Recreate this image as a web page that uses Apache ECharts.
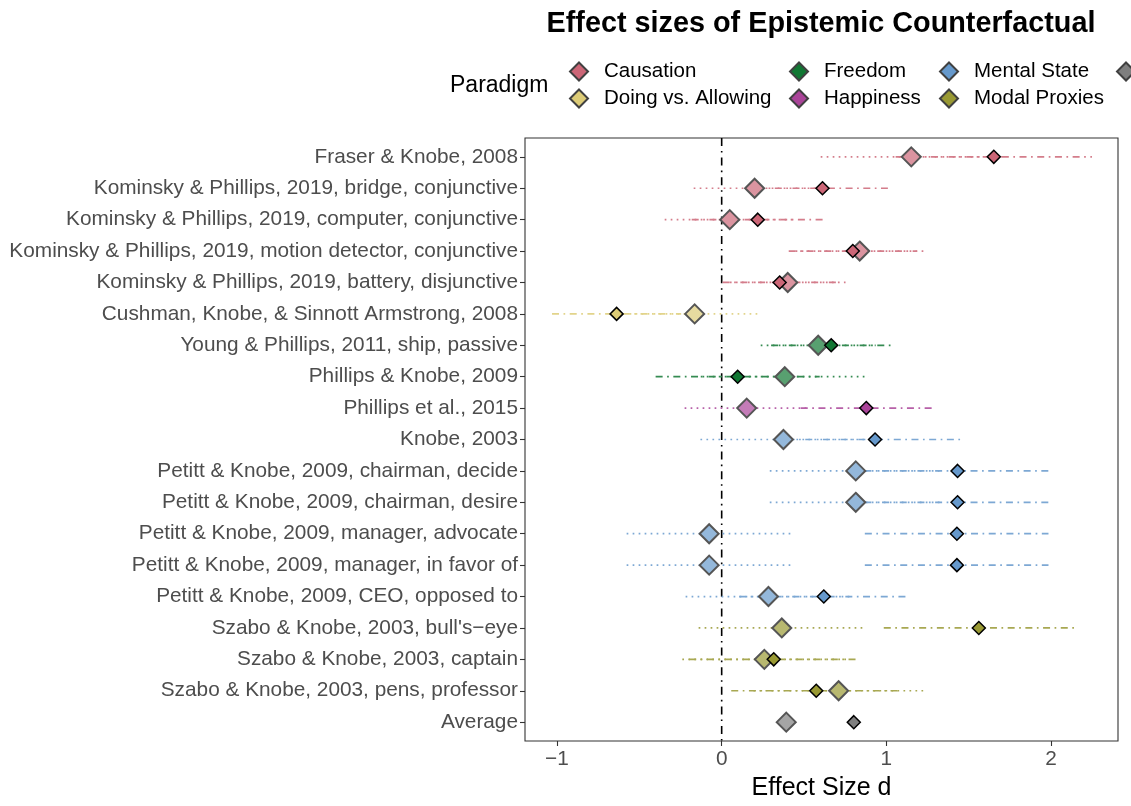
<!DOCTYPE html>
<html>
<head>
<meta charset="utf-8">
<script src="https://cdn.jsdelivr.net/npm/echarts@6/dist/echarts.min.js"></script>
<style>html,body{margin:0;padding:0;background:#fff}#c{width:1131px;height:806px}</style>
</head>
<body>
<div id="c"></div>
<script>
const categories = [
  'Fraser & Knobe, 2008',
  'Kominsky & Phillips, 2019, bridge, conjunctive',
  'Kominsky & Phillips, 2019, computer, conjunctive',
  'Kominsky & Phillips, 2019, motion detector, conjunctive',
  'Kominsky & Phillips, 2019, battery, disjunctive',
  'Cushman, Knobe, & Sinnott Armstrong, 2008',
  'Young & Phillips, 2011, ship, passive',
  'Phillips & Knobe, 2009',
  'Phillips et al., 2015',
  'Knobe, 2003',
  'Petitt & Knobe, 2009, chairman, decide',
  'Petitt & Knobe, 2009, chairman, desire',
  'Petitt & Knobe, 2009, manager, advocate',
  'Petitt & Knobe, 2009, manager, in favor of',
  'Petitt & Knobe, 2009, CEO, opposed to',
  "Szabo & Knobe, 2003, bull's\u2212eye",
  'Szabo & Knobe, 2003, captain',
  'Szabo & Knobe, 2003, pens, professor',
  'Average'
];
const rowParadigm = [
  'Causation','Causation','Causation','Causation','Causation',
  'Doing vs. Allowing','Freedom','Freedom','Happiness',
  'Mental State','Mental State','Mental State','Mental State','Mental State','Mental State',
  'Modal Proxies','Modal Proxies','Modal Proxies','NA'
];
// original studies (small diamonds, dot-dash CI)
const origD  = [1.652, 0.612, 0.219, 0.796, 0.352, -0.638, 0.665, 0.097, 0.878, 0.931, 1.432, 1.432, 1.428, 1.428, 0.620, 1.561, 0.316, 0.574, 0.802];
const origLo = [1.056, 0.215, -0.182, 0.407, 0.006, -1.030, 0.300, -0.401, 0.480, 0.400, 0.866, 0.866, 0.869, 0.869, 0.106, 0.984, -0.197, 0.058, null];
const origHi = [2.248, 1.009, 0.620, 1.185, 0.698, -0.246, 1.030, 0.595, 1.276, 1.462, 1.998, 1.998, 1.984, 1.984, 1.134, 2.139, 0.829, 1.090, null];
// replications (large diamonds, dotted CI)
const repD  = [1.151, 0.200, 0.049, 0.838, 0.401, -0.164, 0.586, 0.383, 0.152, 0.375, 0.814, 0.814, -0.076, -0.076, 0.284, 0.365, 0.259, 0.710, 0.392];
const repLo = [0.601, -0.170, -0.346, 0.449, 0.050, -0.559, 0.237, -0.127, -0.225, -0.129, 0.292, 0.292, -0.577, -0.577, -0.219, -0.140, -0.239, 0.193, null];
const repHi = [1.700, 0.570, 0.444, 1.227, 0.752, 0.231, 0.935, 0.893, 0.529, 0.879, 1.336, 1.336, 0.425, 0.425, 0.787, 0.875, 0.757, 1.227, null];

const paradigms = ['Causation','Doing vs. Allowing','Freedom','Happiness','Mental State','Modal Proxies','NA'];
const paradigmColors = ['#CC6677','#DDCC77','#117733','#AA4499','#6699CC','#999933','#7F7F7F'];
const xTicks = [-1, 0, 1, 2];
const rowIdx = categories.map((_, i) => i);

const FONT = '"Liberation Sans", Arial, Helvetica, sans-serif';

function mix(hex, a) {
  const n = parseInt(hex.slice(1), 16);
  const r = (n >> 16) & 255, g = (n >> 8) & 255, b = n & 255;
  const f = c => Math.round(c * a + 255 * (1 - a));
  return 'rgb(' + f(r) + ',' + f(g) + ',' + f(b) + ')';
}

function ciRender(color, dash) {
  return function (params, api) {
    const p1 = api.coord([api.value(0), api.value(2)]);
    const p2 = api.coord([api.value(1), api.value(2)]);
    return {
      type: 'line',
      shape: { x1: p1[0], y1: p1[1], x2: p2[0], y2: p2[1] },
      style: { stroke: color, lineWidth: 1.7, lineDash: dash, fill: null }
    };
  };
}

const DOT = [1.7, 4.3];
const DOTDASH = [7, 4.5, 1.7, 4.5];

const series = [];
// zero reference line
series.push({
  type: 'custom', name: 'zero', z: 1, silent: true,
  encode: { x: 0, y: [1, 2] },
  data: [[0, -0.6, 18.6]],
  renderItem: function (params, api) {
    const a = api.coord([api.value(0), api.value(1)]);
    const b = api.coord([api.value(0), api.value(2)]);
    return { type: 'line', shape: { x1: a[0], y1: a[1], x2: b[0], y2: b[1] },
      style: { stroke: '#000', lineWidth: 1.6, lineDash: [8, 5, 1.6, 5] } };
  }
});
paradigms.forEach((p, k) => {
  const idx = rowIdx.filter(i => rowParadigm[i] === p);
  const lc = mix(paradigmColors[k], 0.85);
  series.push({
    type: 'custom', name: p, z: 2, silent: true,
    encode: { x: [0, 1], y: 2 },
    data: idx.filter(i => repLo[i] != null).map(i => [repLo[i], repHi[i], i]),
    renderItem: ciRender(lc, DOT)
  });
  series.push({
    type: 'custom', name: p, z: 2, silent: true,
    encode: { x: [0, 1], y: 2 },
    data: idx.filter(i => origLo[i] != null).map(i => [origLo[i], origHi[i], i]),
    renderItem: ciRender(lc, DOTDASH)
  });
});
paradigms.forEach((p, k) => {
  const idx = rowIdx.filter(i => rowParadigm[i] === p);
  series.push({
    type: 'scatter', name: p, z: 3, symbol: 'diamond', symbolSize: 19,
    itemStyle: { color: mix(paradigmColors[k], 0.7), borderColor: '#555555', borderWidth: 2, opacity: 1 },
    data: idx.map(i => [repD[i], i])
  });
});
paradigms.forEach((p, k) => {
  const idx = rowIdx.filter(i => rowParadigm[i] === p);
  series.push({
    type: 'scatter', name: p, z: 4, symbol: 'diamond', symbolSize: 13,
    itemStyle: { color: paradigmColors[k], borderColor: '#000', borderWidth: 1.5, opacity: 1 },
    data: idx.map(i => [origD[i], i])
  });
});

function legendItem(p) {
  const k = paradigms.indexOf(p);
  return { name: p, icon: 'diamond', itemStyle: { color: paradigmColors[k], borderColor: '#404040', borderWidth: 2 } };
}
function makeLegend(names, left) {
  return {
    orient: 'vertical', left: left, top: 61, padding: 0,
    itemWidth: 18, itemHeight: 18, itemGap: 6,
    selectedMode: false,
    textStyle: { fontSize: 20.5, color: '#000', fontFamily: FONT, padding: [0, 0, 0, 11], lineHeight: 18 },
    data: names.map(legendItem)
  };
}

const option = {
  animation: false,
  backgroundColor: '#fff',
  textStyle: { fontFamily: FONT },
  graphic: [
    { type: 'text', x: 821, y: 24, style: { text: 'Effect sizes of Epistemic Counterfactual', font: 'bold 28.8px ' + FONT, fill: '#000', textAlign: 'center', textVerticalAlign: 'middle' } },
    { type: 'text', x: 450, y: 86, style: { text: 'Paradigm', font: '23px ' + FONT, fill: '#000', textAlign: 'left', textVerticalAlign: 'middle' } }
  ],
  legend: [
    makeLegend(['Causation', 'Doing vs. Allowing'], 569),
    makeLegend(['Freedom', 'Happiness'], 789),
    makeLegend(['Mental State', 'Modal Proxies'], 939),
    makeLegend(['NA'], 1116)
  ],
  grid: { left: 525, right: 13, top: 138, bottom: 62, show: true, borderColor: '#333333', borderWidth: 1.1, backgroundColor: '#fff' },
  xAxis: {
    type: 'value', min: -1.194, max: 2.406,
    splitLine: { show: false },
    axisLine: { show: false, onZero: false },
    axisTick: { show: true, customValues: xTicks, length: 5, lineStyle: { color: '#333333', width: 1.1 } },
    axisLabel: { customValues: xTicks, fontSize: 20.8, color: '#4d4d4d', margin: 8, fontFamily: FONT,
      formatter: v => (v < 0 ? '\u2212' + Math.abs(v) : String(v)) },
    name: 'Effect Size d', nameLocation: 'middle', nameGap: 35,
    nameTextStyle: { fontSize: 25, color: '#000', fontFamily: FONT }
  },
  yAxis: {
    type: 'value', inverse: true, min: -0.6, max: 18.6,
    splitLine: { show: false },
    axisLine: { show: false, onZero: false },
    axisTick: { show: true, customValues: rowIdx, length: 5, lineStyle: { color: '#333333', width: 1.1 } },
    axisLabel: { customValues: rowIdx, fontSize: 20.8, color: '#4d4d4d', margin: 7, fontFamily: FONT,
      formatter: v => categories[Math.round(v)] }
  },
  series: series
};

const chart = echarts.init(document.getElementById('c'), null, { renderer: 'canvas' });
chart.setOption(option);
</script>
</body>
</html>
